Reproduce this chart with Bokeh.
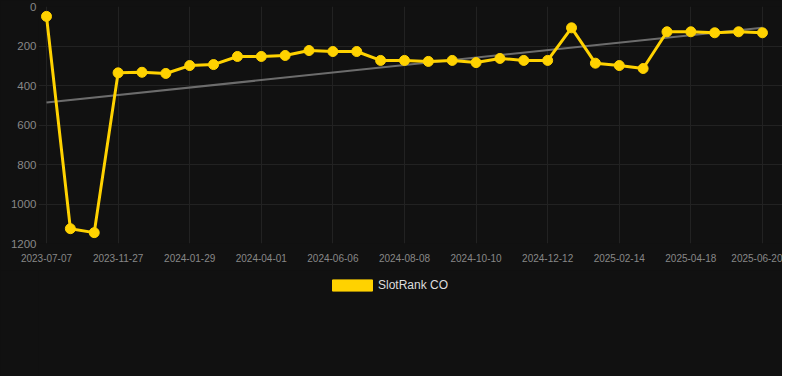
import numpy as np
from bokeh.plotting import figure
from bokeh.layouts import column
from bokeh.models import Range1d, FixedTicker, Legend, LegendItem, ColumnDataSource
from bokeh.embed import file_html
from bokeh.resources import INLINE

# ---- data ----
tick_labels = ["2023-07-07", "2023-11-27", "2024-01-29", "2024-04-01", "2024-06-06",
               "2024-08-08", "2024-10-10", "2024-12-12", "2025-02-14", "2025-04-18",
               "2025-06-20"]
ranks = [50, 1125, 1145, 336, 333, 339, 299, 294, 253, 253, 248, 223, 228, 228, 273,
         273, 278, 273, 284, 263, 273, 273, 108, 287, 299, 314, 128, 128, 133, 128, 133]
y_ticks = [0, 200, 400, 600, 800, 1000, 1200]
series_name = "SlotRank CO"

# ---- derived ----
idx = list(range(len(ranks)))
tick_idx = idx[::3]
slope, intercept = np.polyfit(idx, ranks, 1)
trend_x = [idx[0], idx[-1]]
trend_y = [slope * t + intercept for t in trend_x]

BG = "#111111"
YELLOW = "#FFD200"
GRID = "#222222"
TXT = "#888888"
FONT = "Liberation Sans"

p = figure(frame_width=744, frame_height=237, output_backend="svg", toolbar_location=None,
           x_range=Range1d(-0.335, 30.84), y_range=Range1d(1200, 0),
           min_border_left=38, min_border_right=0, min_border_top=6, min_border_bottom=27,
           background_fill_color=BG, border_fill_color=BG, outline_line_color=None)

p.xgrid.grid_line_color = GRID
p.ygrid.grid_line_color = GRID
p.xgrid.ticker = FixedTicker(ticks=tick_idx)
p.ygrid.ticker = FixedTicker(ticks=y_ticks)

p.xaxis.ticker = FixedTicker(ticks=tick_idx)
p.xaxis.major_label_overrides = {i: lab for i, lab in zip(tick_idx, tick_labels)}
p.yaxis.ticker = FixedTicker(ticks=y_ticks)
for ax in (p.xaxis, p.yaxis):
    ax.axis_line_color = None
    ax.major_tick_line_color = None
    ax.minor_tick_line_color = None
    ax.major_tick_out = 0
    ax.major_tick_in = 0
    ax.major_label_text_color = TXT
    ax.major_label_text_font = FONT
p.xaxis.major_label_text_font_size = "10px"
p.yaxis.major_label_text_font_size = "11.5px"
p.xaxis.major_label_standoff = 10
p.yaxis.major_label_standoff = 2

# trend line
p.line(trend_x, trend_y, line_color="#777777", line_width=2, line_alpha=0.9)

# series
src = ColumnDataSource(dict(x=idx, y=ranks))
p.line("x", "y", source=src, line_color=YELLOW, line_width=3, line_join="round")
p.scatter("x", "y", source=src, size=10, fill_color=YELLOW, line_color=YELLOW)

# legend strip below the chart
lg = figure(frame_width=744, frame_height=106, output_backend="svg", toolbar_location=None,
            x_range=Range1d(0, 1), y_range=Range1d(0, 1),
            x_axis_location=None, y_axis_location=None,
            min_border_left=38, min_border_right=0, min_border_top=0, min_border_bottom=0,
            background_fill_color=BG, border_fill_color=BG, outline_line_color=None)
lg.grid.visible = False
nan = [float("nan")]
sw = lg.quad(left=nan, right=nan, top=nan, bottom=nan, fill_color=YELLOW, line_color=YELLOW)
legend = Legend(items=[LegendItem(label=series_name, renderers=[sw])],
                orientation="horizontal", glyph_width=50, glyph_height=14,
                label_height=12, label_text_color="#dddddd", label_text_font=FONT,
                label_text_font_size="12px", label_standoff=1,
                label_text_baseline="middle",
                background_fill_alpha=0, border_line_color=None,
                margin=0, padding=0, location=(289, 84.5))
lg.add_layout(legend, "center")

layout = column(p, lg, spacing=0, styles={"background-color": BG})
open("out.html", "w").write(file_html(layout, INLINE))
